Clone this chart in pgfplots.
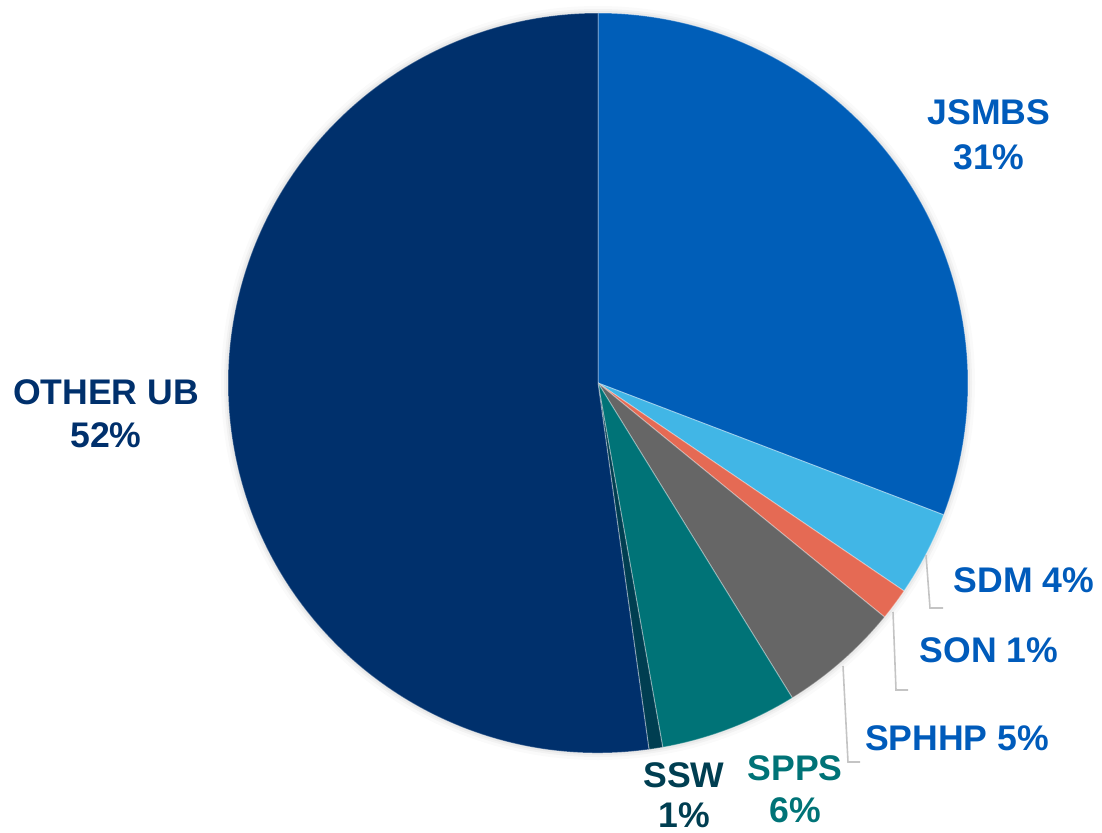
\documentclass[border=0pt]{standalone}
\usepackage{pgfplots}
\usepackage{pgfplotstable}
\pgfplotsset{compat=1.18}
\usepackage{fontspec}
\setmainfont{Liberation Sans}

\definecolor{slicecol0}{HTML}{005EB8}
\definecolor{slicecol1}{HTML}{41B6E6}
\definecolor{slicecol2}{HTML}{E56A54}
\definecolor{slicecol3}{HTML}{666666}
\definecolor{slicecol4}{HTML}{007377}
\definecolor{slicecol5}{HTML}{003E51}
\definecolor{slicecol6}{HTML}{00306C}
\definecolor{lblblue}{HTML}{005BBB}
\definecolor{leader}{HTML}{C4C4C4}

\pgfplotstableread{
name value
JSMBS 30.8
SDM 3.7
SON 1.4
SPHHP 5.3
SPPS 6.0
SSW 0.6
OTHERUB 52.2
}\piedata

\begin{document}
\begin{tikzpicture}
\pgfmathsetmacro{\cum}{0}
\pgfplotsforeachungrouped \i in {0,...,6}{%
  \pgfplotstablegetelem{\i}{value}\of\piedata
  \pgfmathsetmacro{\sa}{90-3.6*\cum}%
  \pgfmathsetmacro{\cum}{\cum+\pgfplotsretval}%
  \pgfmathsetmacro{\sb}{90-3.6*\cum}%
  \expandafter\xdef\csname sa\i\endcsname{\sa}%
  \expandafter\xdef\csname sb\i\endcsname{\sb}%
}
\begin{axis}[
  hide axis, scale only axis,
  x=0.5pt, y=0.5pt,
  xmin=0, xmax=1102, ymin=0, ymax=832,
  clip=false,
]
\path (axis cs:0,0) rectangle (axis cs:1102,832);
% soft shadow
\fill[black, opacity=0.02] (axis cs:598,449) circle[radius=188.5pt];
\fill[black, opacity=0.03] (axis cs:598,449) circle[radius=187pt];
\fill[black, opacity=0.04] (axis cs:598,449) circle[radius=186pt];
\pgfplotsinvokeforeach{0,...,6}{
  \fill[slicecol#1, draw=white, draw opacity=0.35, line width=0.5pt]
    (axis cs:598,449) -- ++(\csname sa#1\endcsname:185pt)
    arc[start angle=\csname sa#1\endcsname, end angle=\csname sb#1\endcsname, radius=185pt] -- cycle;
}
% leader lines
\draw[leader, line width=0.8pt] (axis cs:926,277) -- (axis cs:930,224) -- (axis cs:943,224);
\draw[leader, line width=0.8pt] (axis cs:893,220) -- (axis cs:896,142) -- (axis cs:908,142);
\draw[leader, line width=0.8pt] (axis cs:843,166) -- (axis cs:848,70) -- (axis cs:860,70);
% labels
\tikzset{lbl/.style={anchor=base, inner sep=0pt, font=\fontsize{17.8}{21}\selectfont\bfseries}}
\node[lbl, text=lblblue] at (axis cs:989,707) {JSMBS};
\node[lbl, text=lblblue] at (axis cs:989,662) {31\%};
\node[lbl, text=slicecol6] at (axis cs:106,428) {OTHER UB};
\node[lbl, text=slicecol6] at (axis cs:106,385) {52\%};
\node[lbl, text=lblblue] at (axis cs:1024,240) {SDM 4\%};
\node[lbl, text=lblblue] at (axis cs:989,170) {SON 1\%};
\node[lbl, text=lblblue] at (axis cs:957,82) {SPHHP 5\%};
\node[lbl, text=slicecol5] at (axis cs:684,45) {SSW};
\node[lbl, text=slicecol5] at (axis cs:684,5) {1\%};
\node[lbl, text=slicecol4] at (axis cs:795,52) {SPPS};
\node[lbl, text=slicecol4] at (axis cs:795,10) {6\%};
\end{axis}
\end{tikzpicture}
\end{document}
